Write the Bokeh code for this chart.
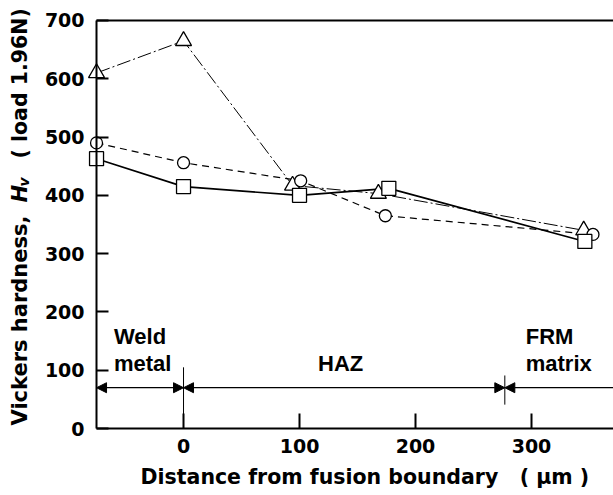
import math
from bokeh.plotting import figure
from bokeh.models import (Range1d, FixedTicker, Label, Arrow, NormalHead,
                          Segment, ColumnDataSource, LinearAxis)
from bokeh.embed import file_html
from bokeh.resources import INLINE

# ---- data ----
tri_x = [-75, 0, 94, 168, 345]
tri_y = [610, 665, 417, 403, 340]
cir_x = [-75, 0, 101, 174, 353]
cir_y = [490, 456, 425, 365, 333]
sq_x = [-75, 0, 100, 177, 346]
sq_y = [463, 415, 400, 412, 321]

x_ticks = [0, 100, 200, 300]
y_ticks = [0, 100, 200, 300, 400, 500, 600, 700]

# visible axis extents and the full view (the view also holds the axis titles)
x_axis_start, y_axis_start, y_axis_end = -75, 0, 700
x_view = (-157.8, 370.7)
y_view = (-114.9, 734.3)

zone_bounds = [-75, 0, 277, 370.7]
zone_names = ["Weld\nmetal", "HAZ", "FRM\nmatrix"]
zone_text_x = [-60, 116, 295]
zone_text_y = 96
zone_arrow_y = 70
zone_line_top = [105, 91]
zone_line_bottom = [0, 41]

FONT = "DejaVu Sans"
ANN_FONT = "Liberation Sans"
NB = "\u00a0"

p = figure(width=613, height=495, output_backend="svg", toolbar_location=None,
           x_range=Range1d(*x_view), y_range=Range1d(*y_view),
           x_axis_location=None, y_axis_location=None,
           min_border_left=0, min_border_right=0, min_border_top=0,
           min_border_bottom=0)
p.grid.visible = False
p.outline_line_color = None
p.background_fill_color = "white"
p.border_fill_color = "white"

xax = LinearAxis(fixed_location=y_axis_start, bounds=(x_axis_start, x_view[1]),
                 ticker=FixedTicker(ticks=x_ticks))
yax = LinearAxis(fixed_location=x_axis_start, bounds=(y_axis_start, y_axis_end),
                 ticker=FixedTicker(ticks=y_ticks))
topax = LinearAxis(fixed_location=y_axis_end, bounds=(x_axis_start, x_view[1]),
                   ticker=FixedTicker(ticks=[]), major_label_text_font_size="0px")
p.add_layout(xax, "below")
p.add_layout(yax, "left")
p.add_layout(topax, "above")

for ax in (xax, yax, topax):
    ax.axis_line_width = 2
    ax.axis_line_color = "black"
    ax.major_tick_line_width = 2
    ax.major_tick_line_color = "black"
    ax.minor_tick_line_color = None
    ax.major_tick_out = 0
    ax.major_label_text_font = FONT
    ax.major_label_text_font_style = "bold"
    ax.major_label_text_color = "black"
for ax in (xax, yax):
    ax.major_label_text_font_size = "19px"
xax.major_tick_in = 15
xax.major_label_standoff = 10
yax.major_tick_in = 12
yax.major_label_standoff = 12

# series lines
p.line(tri_x, tri_y, line_color="black", line_width=1, line_dash="14 3 2 3")
p.line(cir_x, cir_y, line_color="black", line_width=1.2, line_dash="7 5")
p.line(sq_x, sq_y, line_color="black", line_width=1.6)

# markers
p.scatter(tri_x, tri_y, marker="triangle", size=16, fill_color="white",
          line_color="black", line_width=1.3)
p.scatter(cir_x, cir_y, marker="circle", size=12, fill_color="white",
          line_color="black", line_width=1.3)
p.scatter(sq_x, sq_y, marker="square", size=14, fill_color="white",
          line_color="black", line_width=1.3)

# zone divider lines
seg_src = ColumnDataSource(dict(x0=zone_bounds[1:3], x1=zone_bounds[1:3],
                                y0=zone_line_bottom, y1=zone_line_top))
p.add_glyph(seg_src, Segment(x0="x0", y0="y0", x1="x1", y1="y1",
                             line_color="black", line_width=1))

# zone arrows
head = dict(size=10, fill_color="black", line_color="black")
for i in range(3):
    p.add_layout(Arrow(x_start=zone_bounds[i], x_end=zone_bounds[i + 1],
                       y_start=zone_arrow_y, y_end=zone_arrow_y,
                       start=NormalHead(**head),
                       end=NormalHead(**head) if i < 2 else None,
                       line_width=1.3))

# zone names
for name, zx in zip(zone_names, zone_text_x):
    for i, ln in enumerate(reversed(name.split("\n"))):
        p.add_layout(Label(x=zx, y=zone_text_y, y_offset=9 + 27 * i, text=ln,
                           text_font=ANN_FONT, text_font_style="bold",
                           text_font_size="22px", text_color="black",
                           text_baseline="alphabetic", text_align="left"))

# axis titles (screen units, frame = whole canvas)
p.add_layout(Label(x=140, y=19, x_units="screen", y_units="screen",
                   text=f"Distance from fusion boundary{NB}{NB}{NB}({NB}μm{NB})",
                   text_font=FONT, text_font_style="bold", text_font_size="20.5px",
                   text_color="black", text_baseline="alphabetic", text_align="left"))

ylab = dict(x_units="screen", y_units="screen", angle=math.pi / 2,
            text_color="black", text_baseline="alphabetic", text_align="left",
            text_font=FONT)
p.add_layout(Label(x=19, y=70, text="Vickers hardness,", text_font_style="bold",
                   text_font_size="21px", **ylab))
p.add_layout(Label(x=19, y=293, text="H", text_font_style="bold italic",
                   text_font_size="21px", **ylab))
p.add_layout(Label(x=23, y=309, text="v", text_font_style="bold italic",
                   text_font_size="14px", **ylab))
p.add_layout(Label(x=19, y=337, text=f"({NB}load 1.96N)", text_font_style="bold",
                   text_font_size="20.5px", **ylab))

open("out.html", "w").write(file_html(p, INLINE))
